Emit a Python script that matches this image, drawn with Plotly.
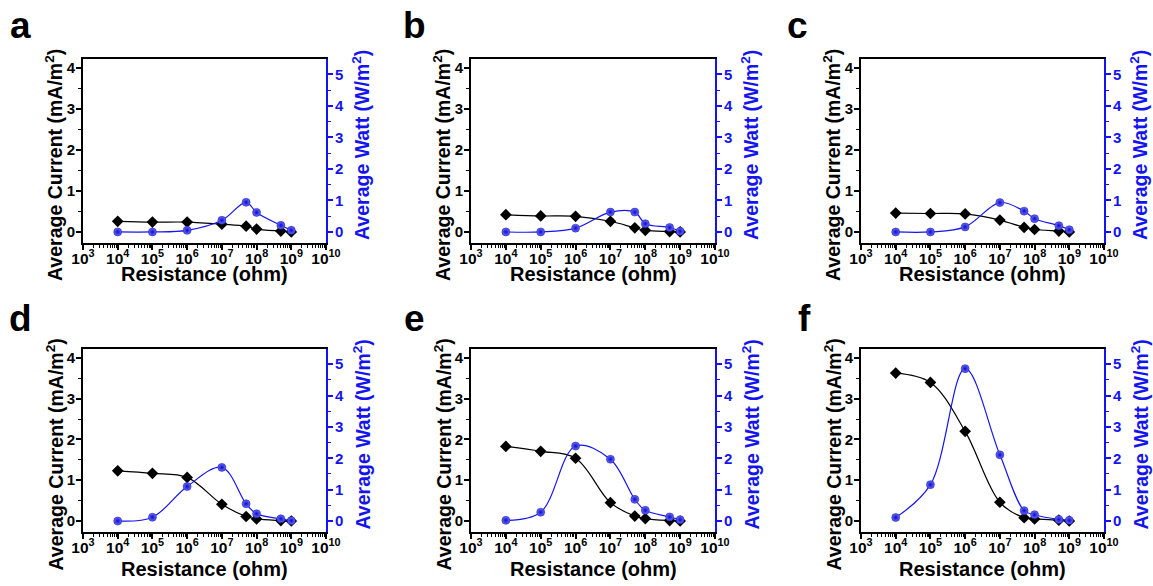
import plotly.graph_objects as go

W, H = 1153, 586

resistance = [1e4, 1e5, 1e6, 1e7, 5e7, 1e8, 5e8, 1e9]
panel_labels = ["a", "b", "c", "d", "e", "f"]

current_a = [0.26, 0.24, 0.24, 0.19, 0.14, 0.07, 0.02, 0.00]
current_b = [0.42, 0.39, 0.38, 0.26, 0.10, 0.04, 0.01, 0.00]
current_c = [0.46, 0.45, 0.44, 0.29, 0.11, 0.06, 0.02, 0.00]
current_d = [1.23, 1.17, 1.07, 0.41, 0.11, 0.05, 0.01, 0.00]
current_e = [1.83, 1.71, 1.54, 0.45, 0.12, 0.06, 0.01, 0.00]
current_f = [3.63, 3.40, 2.20, 0.46, 0.08, 0.05, 0.02, 0.00]

watt_a = [0.00, 0.00, 0.05, 0.37, 0.94, 0.62, 0.21, 0.05]
watt_b = [0.00, 0.00, 0.12, 0.63, 0.63, 0.26, 0.14, 0.02]
watt_c = [0.00, 0.00, 0.16, 0.93, 0.66, 0.42, 0.20, 0.07]
watt_d = [0.00, 0.12, 1.10, 1.71, 0.55, 0.23, 0.07, 0.01]
watt_e = [0.02, 0.28, 2.39, 1.97, 0.69, 0.34, 0.13, 0.04]
watt_f = [0.11, 1.16, 4.86, 2.11, 0.33, 0.20, 0.05, 0.02]

currents = [current_a, current_b, current_c, current_d, current_e, current_f]
watts = [watt_a, watt_b, watt_c, watt_d, watt_e, watt_f]

x_tickvals = [1e3, 1e4, 1e5, 1e6, 1e7, 1e8, 1e9, 1e10]
x_ticktext = ["10<sup>3</sup>", "10<sup>4</sup>", "10<sup>5</sup>", "10<sup>6</sup>",
              "10<sup>7</sup>", "10<sup>8</sup>", "10<sup>9</sup>", "10<sup>10</sup>"]

x_title = "Resistance (ohm)"
y_title = "Average Current (mA/m<sup>2</sup>)"
y2_title = "Average Watt (W/m<sup>2</sup>)"

# pixel boxes (left, top, right, bottom)
boxes = [
    (83, 59, 326, 243), (471, 59, 715, 243), (861, 59, 1104, 243),
    (83, 349, 326, 532), (471, 349, 715, 532), (861, 349, 1104, 532),
]
xtitle_offset = [31, 31, 31, 37, 37, 37]
letter_pos = [(21, 26), (414, 26), (797, 26), (21, 318), (414, 318), (805, 318)]

FONT = "Liberation Sans, Arial, sans-serif"
BLUE = "rgb(20,20,240)"
yl_range = [-0.27, 4.22]
yr_range = [v * 1.3 for v in yl_range]

fig = go.Figure()
layout = dict(
    width=W, height=H, autosize=False,
    margin=dict(l=0, r=0, t=0, b=0, pad=0, autoexpand=False),
    paper_bgcolor="white", plot_bgcolor="white", showlegend=False,
    font=dict(family=FONT, color="black"),
)
annotations = []

for i in range(6):
    l, t, r, b = boxes[i]
    xd = [l / W, r / W]
    yd = [1 - b / H, 1 - t / H]
    xa = "xaxis" if i == 0 else f"xaxis{i+1}"
    ya1 = f"yaxis{2*i+1}" if i > 0 else "yaxis"
    ya2 = f"yaxis{2*i+2}"
    xref = "x" if i == 0 else f"x{i+1}"
    y1ref = "y" if i == 0 else f"y{2*i+1}"
    y2ref = f"y{2*i+2}"

    layout[xa] = dict(
        domain=xd, anchor=y1ref, type="log", range=[3, 10], automargin=False,
        tickvals=x_tickvals, ticktext=x_ticktext, ticklabelstandoff=-5,
        ticks="outside", ticklen=5, tickwidth=1.5, tickcolor="black",
        minor=dict(ticks="outside", ticklen=3, tickwidth=1, tickcolor="black", dtick="D1"),
        showline=True, linecolor="black", linewidth=2, mirror=True,
        showgrid=False, zeroline=False,
        tickfont=dict(family=FONT, size=15.5, color="black", weight="bold"),
    )
    layout[ya1] = dict(
        domain=yd, anchor=xref, range=yl_range, dtick=1, tick0=0, automargin=False,
        ticklabelstandoff=-2,
        ticks="outside", ticklen=5, tickwidth=1.5, tickcolor="black",
        minor=dict(ticks="outside", ticklen=3, tickwidth=1, tickcolor="black", dtick=0.5),
        showline=True, linecolor="black", linewidth=2,
        showgrid=False, zeroline=False,
        tickfont=dict(family=FONT, size=15, color="black", weight="bold"),
    )
    layout[ya2] = dict(
        domain=yd, anchor=xref, overlaying=y1ref, side="right", automargin=False,
        range=yr_range, dtick=1, tick0=0, ticklabelstandoff=-1,
        ticks="outside", ticklen=5, tickwidth=1.5, tickcolor=BLUE,
        minor=dict(ticks="outside", ticklen=3, tickwidth=1, tickcolor=BLUE, dtick=0.5),
        showline=True, linecolor=BLUE, linewidth=2,
        showgrid=False, zeroline=False,
        tickfont=dict(family=FONT, size=15, color=BLUE, weight="bold"),
    )

    fig.add_trace(go.Scatter(
        x=resistance, y=currents[i], xaxis=xref, yaxis=y1ref,
        mode="lines+markers", line=dict(color="black", width=1.2, shape="spline", smoothing=1),
        marker=dict(symbol="diamond", size=9, color="black"),
        cliponaxis=False,
    ))
    fig.add_trace(go.Scatter(
        x=resistance, y=watts[i], xaxis=xref, yaxis=y2ref,
        mode="lines+markers", line=dict(color=BLUE, width=1.2, shape="spline", smoothing=1),
        marker=dict(symbol="circle", size=8, color="rgb(110,110,255)",
                    gradient=dict(type="radial", color="rgb(10,10,200)"),
                    line=dict(width=0.5, color="rgb(10,10,170)")),
        cliponaxis=False,
    ))

    cx = (l + r) / 2
    cy = (t + b) / 2
    annotations.append(dict(
        xref="paper", yref="paper", x=cx / W, y=1 - (b + xtitle_offset[i]) / H,
        text=x_title, showarrow=False, xanchor="center", yanchor="middle",
        font=dict(family=FONT, size=20, color="black", weight="bold"),
    ))
    annotations.append(dict(
        xref="paper", yref="paper", x=(l - 29) / W, y=1 - (cy + 14) / H,
        text=y_title, showarrow=False, xanchor="center", yanchor="middle", textangle=-90,
        font=dict(family=FONT, size=19.5, color="black", weight="bold"),
    ))
    annotations.append(dict(
        xref="paper", yref="paper", x=(r + 35) / W, y=1 - (cy - 6) / H,
        text=y2_title, showarrow=False, xanchor="center", yanchor="middle", textangle=-90,
        font=dict(family=FONT, size=19.5, color=BLUE, weight="bold"),
    ))
    lx, ly = letter_pos[i]
    annotations.append(dict(
        xref="paper", yref="paper", x=lx / W, y=1 - ly / H,
        text=panel_labels[i], showarrow=False, xanchor="center", yanchor="middle",
        font=dict(family=FONT, size=37, color="black", weight="bold"),
    ))

layout["annotations"] = annotations
fig.update_layout(**layout)
fig.write_html(
    "out.html",
    config={"responsive": False, "displayModeBar": False},
    post_script="document.body.style.margin='0';document.body.style.overflow='hidden';",
)
